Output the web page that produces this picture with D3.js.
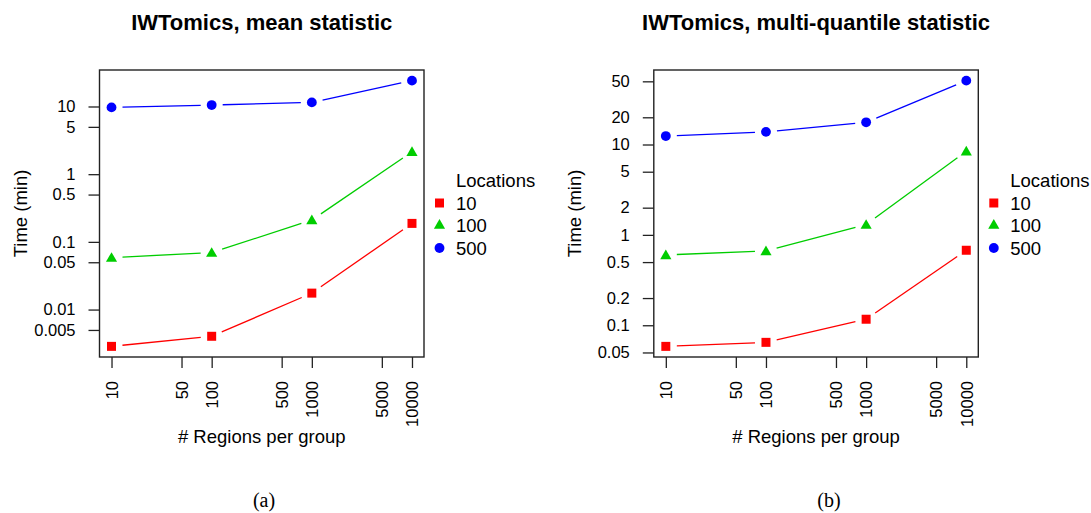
<!DOCTYPE html>
<html>
<head>
    <title>IWTomics timing</title>
    <script src="https://cdn.jsdelivr.net/npm/d3@7"></script>
    <style>
        body { margin: 0; background: #fff; }
        text { font-family: "Liberation Sans", Arial, Helvetica, sans-serif; fill: #000; }
    </style>
</head>
<body>
    <div id="chart"></div>
    <script type="text/javascript">
        // x values (regions per group) and series per number of locations
        var regions = [10, 100, 1000, 10000];
        var locations = ["10", "100", "500"];

        // (a) mean statistic, time in minutes
        var meanLoc10 = [0.00286, 0.00403, 0.0175, 0.1875];
        var meanLoc100 = [0.0586, 0.0695, 0.21, 2.14];
        var meanLoc500 = [9.7, 10.5, 11.5, 24.1];

        // (b) multi-quantile statistic, time in minutes
        var mqLoc10 = [0.0584, 0.0647, 0.1166, 0.676];
        var mqLoc100 = [0.6, 0.664, 1.3, 8.43];
        var mqLoc500 = [12.4, 13.8, 17.6, 50.9];

        var xTicks = [10, 50, 100, 500, 1000, 5000, 10000];
        var meanYTicks = [0.005, 0.01, 0.05, 0.1, 0.5, 1, 5, 10];
        var mqYTicks = [0.05, 0.1, 0.2, 0.5, 1, 2, 5, 10, 20, 50];

        var colors = ["#ff0000", "#00cd00", "#0000ff"];
        var shapes = [d3.symbolSquare, d3.symbolTriangle, d3.symbolCircle];
        var shapeSize = [81, 54, 76];

        var width = 1091;
        var height = 513;

        var svg = d3.select("#chart").append("svg")
            .attr('width', width)
            .attr('height', height)
            .style('background', '#fff');

        // R style log range with 4% padding
        function padLog(lo, hi, f) {
            var a = Math.log10(lo), b = Math.log10(hi), p = (b - a) * f;
            return [Math.pow(10, a - p), Math.pow(10, b + p)];
        }

        function panel(left, title, series, yTicks, caption, capX) {
            var top = 70, bottom = 357, right = left + 324.5;
            var all = d3.merge(series);

            var x = d3.scaleLog()
                .domain(padLog(d3.min(regions), d3.max(regions), 0.04))
                .range([left, right]);
            var y = d3.scaleLog()
                .domain(padLog(d3.min(all), d3.max(all), 0.04))
                .range([bottom, top]);

            var g = svg.append("g");

            // lines with gaps around points (type = "b")
            var gap = 11;
            series.forEach(function(vals, s) {
                for (var i = 0; i < vals.length - 1; i++) {
                    var x1 = x(regions[i]), y1 = y(vals[i]);
                    var x2 = x(regions[i + 1]), y2 = y(vals[i + 1]);
                    var dx = x2 - x1, dy = y2 - y1, len = Math.sqrt(dx * dx + dy * dy);
                    if (len <= 2 * gap) continue;
                    var ux = dx / len, uy = dy / len;
                    g.append("line")
                        .attr("x1", x1 + ux * gap).attr("y1", y1 + uy * gap)
                        .attr("x2", x2 - ux * gap).attr("y2", y2 - uy * gap)
                        .attr("stroke", colors[s])
                        .attr("stroke-width", 1.3);
                }
                g.selectAll(null)
                    .data(vals)
                    .enter().append("path")
                        .attr("d", d3.symbol().type(shapes[s]).size(shapeSize[s]))
                        .attr("transform", function(d, i) {
                            var off = s == 1 ? 1 : 0;
                            return "translate(" + x(regions[i]) + "," + (y(d) + off) + ")";
                        })
                        .attr("fill", colors[s]);
            });

            // box
            g.append("rect")
                .attr("x", left).attr("y", top)
                .attr("width", right - left).attr("height", bottom - top)
                .attr("fill", "none")
                .attr("stroke", "#222")
                .attr("stroke-width", 1.4);

            var yAxis = g.append("g")
                .attr("transform", "translate(" + left + ",0)")
                .call(d3.axisLeft(y).tickValues(yTicks).tickSize(11).tickPadding(13)
                    .tickFormat(function(d) { return String(d); }));
            yAxis.select(".domain").remove();
            yAxis.selectAll("line").attr("stroke", "#222").attr("stroke-width", 1.3);
            yAxis.selectAll("text").style("font-size", "16.5px")
                .style("font-family", '"Liberation Sans", Arial, sans-serif');

            var xAxis = g.append("g")
                .attr("transform", "translate(0," + bottom + ")")
                .call(d3.axisBottom(x).tickValues(xTicks).tickSize(11)
                    .tickFormat(function(d) { return String(d); }));
            xAxis.select(".domain").remove();
            xAxis.selectAll("line").attr("stroke", "#222").attr("stroke-width", 1.3);
            xAxis.selectAll("text")
                .attr("transform", "rotate(-90)")
                .attr("x", -24)
                .attr("y", 0)
                .attr("dy", "0.35em")
                .attr("text-anchor", "end")
                .style("font-size", "16.5px")
                .style("font-family", '"Liberation Sans", Arial, sans-serif');

            var cx = (left + right) / 2;
            g.append("text")
                .attr("x", cx).attr("y", 30)
                .attr("text-anchor", "middle")
                .style("font-size", "22px")
                .style("font-weight", "bold")
                .text(title);

            g.append("text")
                .attr("x", cx).attr("y", 443)
                .attr("text-anchor", "middle")
                .style("font-size", "18.5px")
                .text("# Regions per group");

            g.append("text")
                .attr("transform", "translate(" + (left - 73) + "," + ((top + bottom) / 2) + ") rotate(-90)")
                .attr("text-anchor", "middle")
                .style("font-size", "18.5px")
                .text("Time (min)");

            // legend
            var lx = right + 15.5, ty = 187;
            g.append("text")
                .attr("x", lx + 16.5).attr("y", ty)
                .style("font-size", "18.5px")
                .text("Locations");
            locations.forEach(function(l, s) {
                var ly = ty + 22.5 * (s + 1);
                g.append("path")
                    .attr("d", d3.symbol().type(shapes[s]).size(shapeSize[s]))
                    .attr("transform", "translate(" + lx + "," + (ly - 6.5) + ")")
                    .attr("fill", colors[s]);
                g.append("text")
                    .attr("x", lx + 16.5).attr("y", ly)
                    .style("font-size", "18.5px")
                    .text(l);
            });

            svg.append("text")
                .attr("x", capX).attr("y", 507)
                .attr("text-anchor", "middle")
                .style("font-family", '"Liberation Serif", "DejaVu Serif", serif')
                .style("font-size", "20px")
                .text(caption);
        }

        panel(99.5, "IWTomics, mean statistic", [meanLoc10, meanLoc100, meanLoc500], meanYTicks, "(a)", 264);
        panel(653.8, "IWTomics, multi-quantile statistic", [mqLoc10, mqLoc100, mqLoc500], mqYTicks, "(b)", 829);
    </script>
</body>
</html>
